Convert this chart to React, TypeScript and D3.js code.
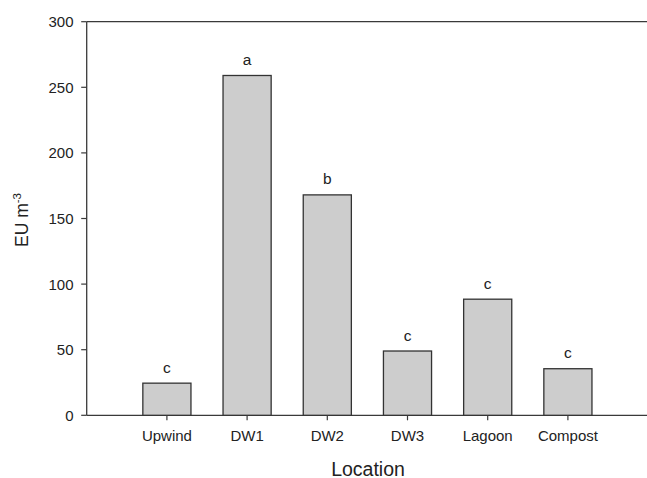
import React from "react";
import * as d3 from "d3";

const categories = ["Upwind", "DW1", "DW2", "DW3", "Lagoon", "Compost"];
const values = [24.5, 259, 168, 49, 88.5, 35.5];
const letters = ["c", "a", "b", "c", "c", "c"];
const yTicks = [0, 50, 100, 150, 200, 250, 300];

const W = 647;
const H = 478;
const left = 86.7;
const top = 21.7;
const bottom = 415.3;
const rightEdge = 700;

export default function App() {
  const y = d3.scaleLinear().domain([0, 300]).range([bottom, top]);
  const step = 80.2;
  const x = d3
    .scaleBand<string>()
    .domain(categories)
    .range([left + step * 0.5, left + step * 6.5])
    .paddingInner(0.4)
    .paddingOuter(0.2);
  const bw = x.bandwidth();
  const font = "'Liberation Sans', Arial, sans-serif";
  const axisColor = "#3a3a3a";
  const textColor = "#222";

  return (
    <svg
      width={W}
      height={H}
      style={{ position: "absolute", left: 0, top: 0, background: "#fff" }}
      fontFamily={font}
    >
      {/* frame */}
      <line x1={left} x2={rightEdge} y1={top} y2={top} stroke={axisColor} strokeWidth={1.3} />
      <line x1={left} x2={rightEdge} y1={bottom} y2={bottom} stroke={axisColor} strokeWidth={1.3} />
      <line x1={left} x2={left} y1={top} y2={bottom} stroke={axisColor} strokeWidth={1.3} />

      {/* y ticks */}
      {yTicks.map((t) => (
        <g key={t}>
          <line x1={left - 5.5} x2={left} y1={y(t)} y2={y(t)} stroke={axisColor} strokeWidth={1.2} />
          <text
            x={73.5}
            y={y(t)}
            dy="0.36em"
            textAnchor="end"
            fontSize={15}
            fill={textColor}
          >
            {t}
          </text>
        </g>
      ))}

      {/* bars */}
      {categories.map((c, i) => {
        const x0 = x(c)!;
        const cx = x0 + bw / 2;
        return (
          <g key={c}>
            <rect
              x={x0}
              y={y(values[i])}
              width={bw}
              height={bottom - y(values[i])}
              fill="#cdcdcd"
              stroke="#333"
              strokeWidth={1.3}
            />
            <text
              x={cx}
              y={y(values[i]) - 10.5}
              textAnchor="middle"
              fontSize={15.5}
              fill={textColor}
            >
              {letters[i]}
            </text>
            <line x1={cx} x2={cx} y1={bottom} y2={bottom + 5} stroke={axisColor} strokeWidth={1.2} />
            <text x={cx} y={441} textAnchor="middle" fontSize={15} fill={textColor}>
              {c}
            </text>
          </g>
        );
      })}

      {/* x axis title */}
      <text x={368} y={475.5} textAnchor="middle" fontSize={19.5} fill={textColor}>
        Location
      </text>

      {/* y axis title */}
      <text
        transform={`translate(28,${220}) rotate(-90)`}
        textAnchor="middle"
        fontSize={17.5}
        fill={textColor}
      >
        <tspan>EU m</tspan>
        <tspan dy={-7} fontSize={11.5}>
          -3
        </tspan>
      </text>
    </svg>
  );
}
